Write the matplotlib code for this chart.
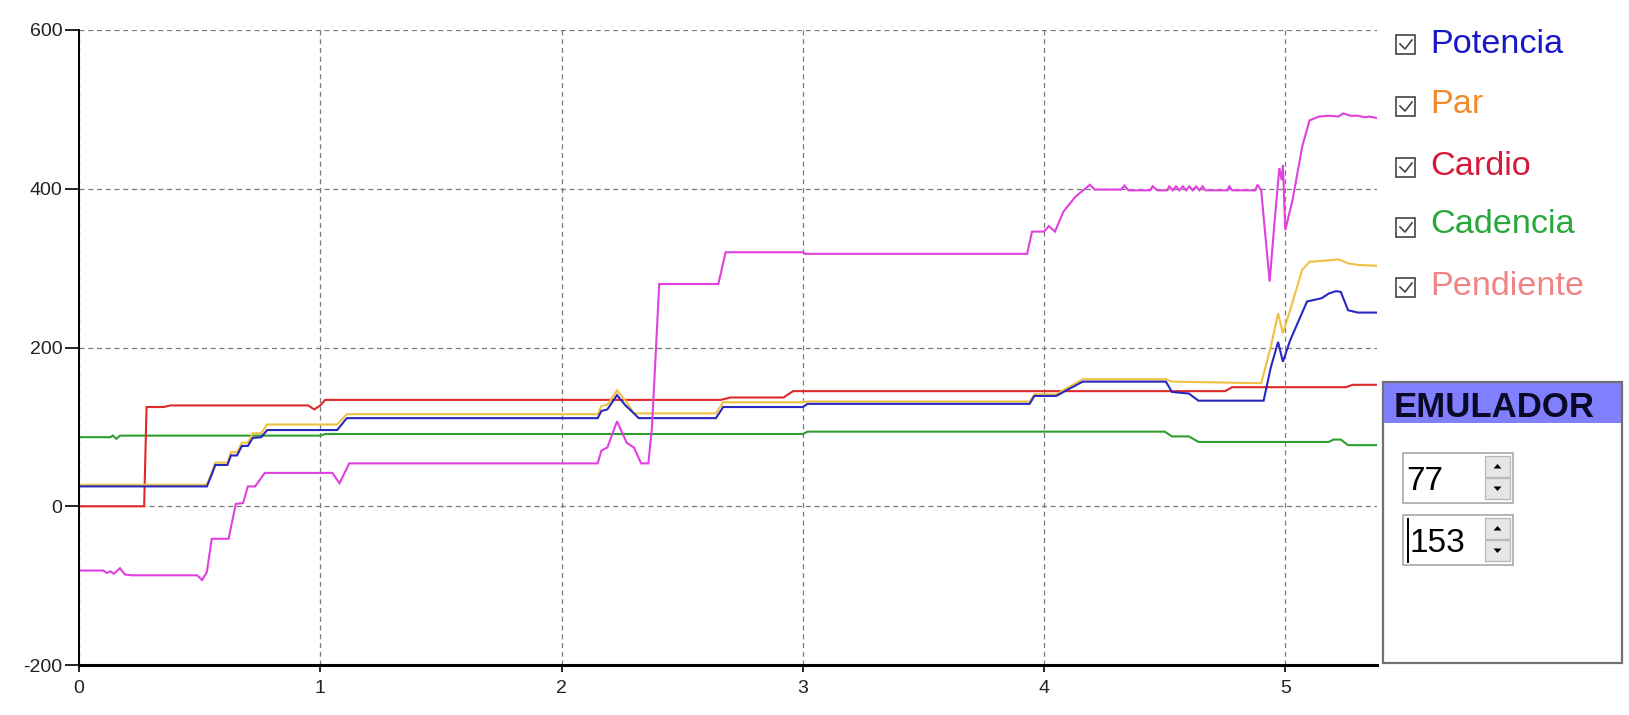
import matplotlib
matplotlib.use('Agg')
import matplotlib.pyplot as plt
from matplotlib.patches import Rectangle, Polygon
from matplotlib.lines import Line2D
from matplotlib.transforms import Affine2D

plt.rcParams['font.family'] = ['Liberation Sans', 'DejaVu Sans']

# ---------------- data ----------------
pot_x = [0, 0.53, 0.55, 0.565, 0.615, 0.63, 0.655, 0.675, 0.70, 0.72, 0.755, 0.78, 1.07, 1.11,
         2.15, 2.165, 2.19, 2.23, 2.265, 2.29, 2.32, 2.64, 2.67, 3.0, 3.02, 3.94, 3.96, 4.05,
         4.16, 4.505, 4.53, 4.60, 4.64, 4.91, 4.94, 4.97, 4.99, 5.02, 5.09, 5.15, 5.18, 5.21,
         5.23, 5.26, 5.30, 5.38]
pot_y = [25, 25, 40, 52, 52, 64, 64, 76, 76, 86, 87, 96, 96, 111,
         111, 120, 122, 140, 127, 120, 111, 111, 125, 125, 129, 129, 139, 139,
         157, 157, 144, 142, 133, 133, 175, 207, 182, 209, 258, 262, 268, 271,
         270, 247, 244, 244]

par_x = [0, 0.53, 0.55, 0.565, 0.615, 0.63, 0.655, 0.675, 0.70, 0.72, 0.755, 0.78, 1.07, 1.11,
         2.15, 2.165, 2.19, 2.23, 2.265, 2.30, 2.64, 2.67, 3.0, 3.02, 3.94, 3.96, 4.05,
         4.16, 4.505, 4.53, 4.90, 4.94, 4.97, 4.99, 5.02, 5.07, 5.10, 5.19, 5.22, 5.26,
         5.30, 5.38]
par_y = [27, 27, 42, 55, 55, 68, 68, 80, 80, 92, 92, 103, 103, 116,
         116, 126, 128, 146, 133, 117, 117, 131, 131, 132, 132, 141, 141,
         160, 160, 157, 155, 201, 243, 218, 247, 298, 308, 310, 311, 306,
         304, 303]

car_x = [0, 0.27, 0.28, 0.35, 0.38, 0.95, 0.975, 1.0, 1.02, 2.66, 2.70, 2.92, 2.96,
         4.75, 4.78, 5.25, 5.28, 5.38]
car_y = [0, 0, 125, 125, 127, 127, 122, 127, 134, 134, 137, 137, 145,
         145, 150, 150, 153, 153]

cad_x = [0, 0.13, 0.14, 0.155, 0.17, 1.0, 1.02, 3.0, 3.02, 4.5, 4.53, 4.60, 4.64,
         5.18, 5.20, 5.23, 5.26, 5.38]
cad_y = [87, 87, 89, 85, 89, 89, 91, 91, 94, 94, 88, 88, 81,
         81, 84, 84, 77, 77]

pen_x = [0, 0.10, 0.115, 0.13, 0.145, 0.17, 0.19, 0.22, 0.49, 0.51, 0.53, 0.55, 0.62,
         0.65, 0.68, 0.70, 0.73, 0.77, 1.05, 1.08, 1.12, 2.15, 2.165, 2.19, 2.23, 2.27,
         2.30, 2.33, 2.36, 2.375, 2.405, 2.65, 2.68, 3.0, 3.01, 3.93, 3.95, 4.0, 4.02,
         4.045, 4.08, 4.13, 4.17, 4.19, 4.21, 4.32, 4.333, 4.35, 4.44, 4.45, 4.47, 4.51,
         4.519, 4.533, 4.547, 4.561, 4.575, 4.589, 4.602, 4.616, 4.630, 4.644, 4.657,
         4.67, 4.76, 4.768, 4.78, 4.875, 4.885, 4.90, 4.935, 4.955, 4.975, 4.985, 4.99,
         5.0, 5.03, 5.07, 5.10, 5.14, 5.18, 5.22, 5.24, 5.27, 5.30, 5.33, 5.35, 5.38]
pen_y = [-81, -81, -84, -82, -85, -78, -86, -87, -87, -93, -83, -41, -41,
         3, 4, 25, 25, 42, 42, 29, 54, 54, 70, 74, 107, 80,
         74, 54, 54, 100, 280, 280, 320, 320, 318, 318, 346, 346, 353,
         346, 371, 390, 400, 405, 399, 399, 404, 398, 398, 403, 398, 398,
         403, 398, 403, 398, 403, 398, 403, 398, 403, 398, 403,
         398, 398, 403, 398, 398, 405, 398, 283, 357, 426, 411, 430,
         348, 386, 453, 486, 491, 492, 491, 495, 492, 492, 490, 491, 489]

x_ticks = [0, 1, 2, 3, 4, 5]
y_ticks = [-200, 0, 200, 400, 600]

legend_labels = ['Potencia', 'Par', 'Cardio', 'Cadencia', 'Pendiente']
legend_colors = ['#1818C8', '#F08A2A', '#D8183A', '#26A83A', '#F08484']

emu_title = 'EMULADOR'
emu_values = ['77', '153']

# ---------------- figure ----------------
W, H = 1629, 715
fig = plt.figure(figsize=(W / 100, H / 100), dpi=100)
pxT = Affine2D().scale(1 / W, -1 / H).translate(0, 1) + fig.transFigure

ax_l, ax_r, ax_t, ax_b = 79, 1377, 30, 665
ax = fig.add_axes([ax_l / W, 1 - ax_b / H, (ax_r - ax_l) / W, (ax_b - ax_t) / H])

series = [
    (cad_x, cad_y, '#2E9E2E'),
    (car_x, car_y, '#E02828'),
    (par_x, par_y, '#F0C040'),
    (pot_x, pot_y, '#2828C0'),
    (pen_x, pen_y, '#E040E0'),
]
for xs, ys, c in series:
    ax.plot(xs, ys, color=c, lw=1.5, solid_joinstyle='miter')

ax.set_xlim(0, 5.38)
ax.set_ylim(-200, 600)
ax.set_xticks(x_ticks)
ax.set_yticks(y_ticks)
ax.set_xticklabels([str(v) for v in x_ticks])
ax.set_yticklabels([str(v) for v in y_ticks])
ax.grid(True, ls=(0, (4, 3)), color='#7A7A7A', lw=0.9)
ax.set_axisbelow(True)
for s in ['top', 'right']:
    ax.spines[s].set_visible(False)
ax.spines['left'].set_linewidth(1.4)
ax.spines['bottom'].set_linewidth(2.2)
ax.spines['left'].set_color('black')
ax.spines['bottom'].set_color('black')
ax.tick_params(axis='y', length=10, width=1.2, pad=2, labelsize=14, labelcolor='#222222')
ax.tick_params(axis='x', length=5, width=1.2, pad=6, labelsize=14, labelcolor='#222222')

# ---------------- legend (check boxes) ----------------
box_tops = [35, 97, 158, 218, 278]
baselines = [53, 113, 175, 233, 295]
for lab, col, bt, bl in zip(legend_labels, legend_colors, box_tops, baselines):
    fig.patches.append(Rectangle((1396, bt), 19, 19, transform=pxT, fill=False,
                                 ec='#444444', lw=1.2))
    fig.lines.append(Line2D([1400, 1405, 1412], [bt + 9, bt + 14, bt + 5], transform=pxT,
                            color='#444444', lw=1.2))
    fig.text(1430, bl, lab, transform=pxT, color=col, fontsize=24.7, va='baseline', ha='left')

# ---------------- emulator panel ----------------
bx0, by0, bx1, by1 = 1383, 382, 1622, 663
fig.patches.append(Rectangle((bx0, by0), bx1 - bx0, 41, transform=pxT, fc='#8080FF', ec='none'))
fig.patches.append(Rectangle((bx0, by0), bx1 - bx0, by1 - by0, transform=pxT, fill=False,
                             ec='#707070', lw=1.6))
fig.text(1394, 417, emu_title, transform=pxT, color='#0A0A28', fontsize=25, fontweight='bold',
         va='baseline', ha='left')

spin_tops = [453, 515]
for i, (val, st) in enumerate(zip(emu_values, spin_tops)):
    fig.patches.append(Rectangle((1403, st), 110, 50, transform=pxT, fc='white',
                                 ec='#A8A8A8', lw=1.2))
    # up / down buttons
    for k in range(2):
        top = st + 3 + k * 22
        fig.patches.append(Rectangle((1485, top), 25, 21, transform=pxT, fc='#E6E6E6',
                                     ec='#B8B8B8', lw=0.9))
        cx, cy = 1497.5, top + 10.5
        if k == 0:
            tri = [(cx - 4, cy + 2), (cx + 4, cy + 2), (cx, cy - 2.5)]
        else:
            tri = [(cx - 4, cy - 2), (cx + 4, cy - 2), (cx, cy + 2.5)]
        fig.patches.append(Polygon(tri, closed=True, transform=pxT, fc='black', ec='none'))
    tx = 1406 if i == 0 else 1410
    fig.text(tx, st + 37, val, transform=pxT, color='black', fontsize=24, va='baseline',
             ha='left')
    if i == 1:
        fig.lines.append(Line2D([1408, 1408], [st + 4, st + 47], transform=pxT,
                                color='black', lw=1.4))

fig.savefig('out.png', dpi=100)
